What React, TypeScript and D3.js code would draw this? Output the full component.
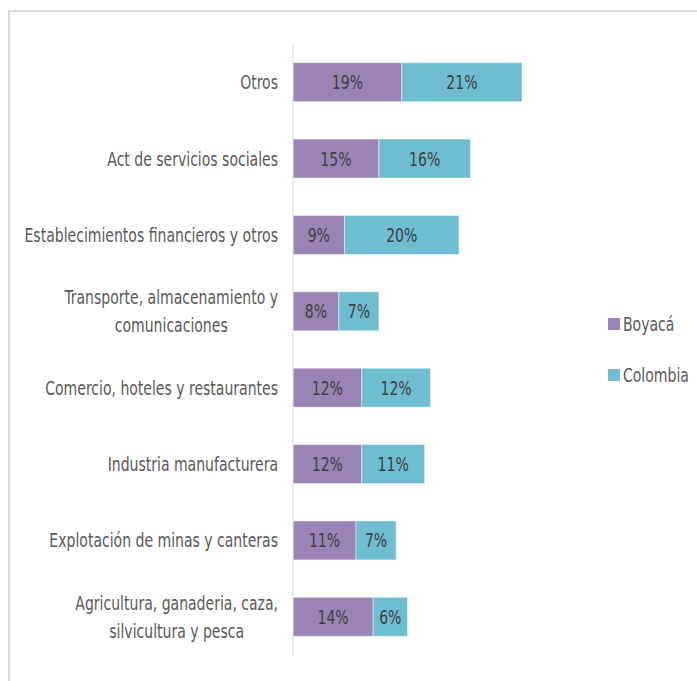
//@ts-nocheck
import * as d3 from "d3";
import React, { useEffect, useRef } from "react";

// categorias de arriba hacia abajo
const categories = [
  ["Otros"],
  ["Act de servicios sociales"],
  ["Establecimientos financieros y otros"],
  ["Transporte, almacenamiento y", "comunicaciones"],
  ["Comercio, hoteles y restaurantes"],
  ["Industria manufacturera"],
  ["Explotación de minas y canteras"],
  ["Agricultura, ganaderia, caza,", "silvicultura y pesca"],
];
const boyaca = [19, 15, 9, 8, 12, 12, 11, 14];
const colombia = [21, 16, 20, 7, 12, 11, 7, 6];
const seriesNames = ["Boyacá", "Colombia"];
const colors = ["#9a84b5", "#6fbdd1"];

const width = 697;
const height = 681;
const font = "'DejaVu Sans Condensed', 'DejaVu Sans', sans-serif";
const fontSize = 19.5;
const squeeze = 0.8; // la fuente original es mas estrecha

// texto comprimido horizontalmente, anclado en (ax, ay)
function narrowText(parent, ax, ay, anchor, fill) {
  const g = parent.append("g").attr("transform", `translate(${ax},${ay}) scale(${squeeze},1)`);
  return g
    .append("text")
    .attr("x", 0)
    .attr("y", 0)
    .attr("dy", "0.36em")
    .attr("text-anchor", anchor)
    .attr("font-family", font)
    .attr("font-size", fontSize)
    .attr("fill", fill);
}

const chart = (svgEl) => {
  const svg = d3.select(svgEl);
  svg.selectAll("*").remove();

  // borde del area del grafico
  svg
    .append("rect")
    .attr("x", 9)
    .attr("y", 11)
    .attr("width", width + 20)
    .attr("height", height + 20)
    .attr("fill", "#fff")
    .attr("stroke", "#d9d9d9")
    .attr("stroke-width", 2);

  const ids = categories.map((c) => c.join(" "));
  const y = d3
    .scaleBand()
    .domain(ids)
    .range([44, 655])
    .paddingInner(0.49)
    .paddingOuter(0.245);
  const x = d3.scaleLinear().domain([0, 40]).range([293, 522]);

  const rows = ids.map((id, i) => ({ id, lines: categories[i], vals: [boyaca[i], colombia[i]] }));
  const stack = d3.stack().keys([0, 1]).value((d, k) => d.vals[k]);
  const layers = stack(rows);

  const g = svg.append("g");
  layers.forEach((layer, k) => {
    g.append("g")
      .selectAll("rect")
      .data(layer)
      .join("rect")
      .attr("x", (d) => x(d[0]))
      .attr("y", (d) => y(d.data.id))
      .attr("width", (d) => x(d[1]) - x(d[0]))
      .attr("height", y.bandwidth())
      .attr("fill", colors[k])
      .attr("stroke", "#fff")
      .attr("stroke-opacity", 0.45)
      .attr("stroke-width", 1);
    layer.forEach((d) => {
      narrowText(g, (x(d[0]) + x(d[1])) / 2, y(d.data.id) + y.bandwidth() / 2, "middle", "#404040").text(
        `${d.data.vals[k]}%`
      );
    });
  });

  // eje vertical
  svg
    .append("line")
    .attr("x1", 293)
    .attr("x2", 293)
    .attr("y1", 44)
    .attr("y2", 655)
    .attr("stroke", "#d9d9d9")
    .attr("stroke-width", 1);

  // etiquetas de categoria
  const lineH = 28;
  rows.forEach((r) => {
    const cy = y(r.id) + y.bandwidth() / 2;
    const t = narrowText(svg, 278, cy, "middle", "#595959");
    const spans = r.lines.map((ln, j) =>
      t
        .append("tspan")
        .attr("y", (j - (r.lines.length - 1) / 2) * lineH)
        .attr("dy", "0.36em")
        .text(ln)
    );
    const maxW = d3.max(spans, (s) => s.node().getComputedTextLength());
    spans.forEach((s) => s.attr("x", -maxW / 2));
  });

  // leyenda
  const legendY = [324, 375];
  seriesNames.forEach((name, k) => {
    svg
      .append("rect")
      .attr("x", 608)
      .attr("y", legendY[k] - 6)
      .attr("width", 12)
      .attr("height", 12)
      .attr("fill", colors[k]);
    narrowText(svg, 623, legendY[k], "start", "#595959").text(name);
  });
};

export default function App() {
  const ref = useRef(null);
  useEffect(() => {
    if (ref.current) chart(ref.current);
  }, []);
  return (
    <svg
      ref={ref}
      width={width}
      height={height}
      style={{ position: "absolute", left: 0, top: 0, background: "#fff" }}
    />
  );
}
